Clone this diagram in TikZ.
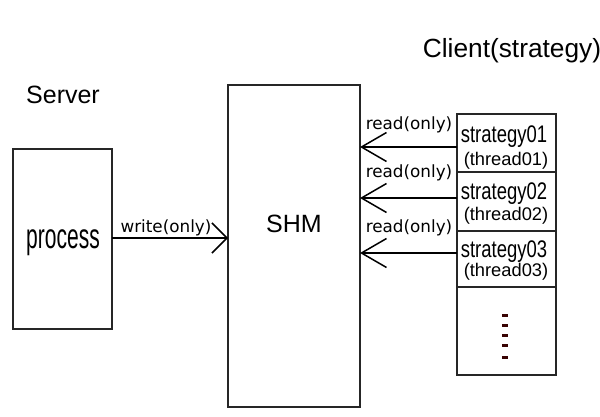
\documentclass[tikz,border=0pt]{standalone}
\usepackage{fontspec}
\setmainfont{Liberation Sans}
\newfontfamily\narrowfont[FakeStretch=0.77]{Liberation Sans}
\newfontfamily\procfont[FakeStretch=0.6]{Liberation Sans}
\newfontfamily\dvfont{DejaVu Sans}
\usetikzlibrary{arrows.meta}
\definecolor{dotc}{rgb}{0.22,0.01,0.01}
\tikzset{
  box/.style={draw=black!85, line width=1.6pt, inner sep=0pt, outer sep=0pt},
  lbl/.style={inner sep=0pt, outer sep=0pt, anchor=base},
  big/.style={lbl, font=\fontsize{25}{30}\selectfont},
  arrlbl/.style={lbl, font=\dvfont\fontsize{16.8}{20}\selectfont},
  strat/.style={lbl, font=\narrowfont\fontsize{24}{28}\selectfont},
  thr/.style={lbl, font=\fontsize{18.3}{22}\selectfont},
  readarrow/.style={line width=1.5pt, -{Straight Barb[length=25pt, width=29pt, line width=1.5pt]}},
  writearrow/.style={line width=1.5pt, -{Straight Barb[length=15pt, width=30pt, line width=1.5pt]}}
}
\begin{document}
\begin{tikzpicture}[x=1pt,y=-1pt]
\useasboundingbox[fill=white] (0,0) rectangle (600,417);
% boxes
\node[box, minimum width=99pt, minimum height=180pt] (proc) at (62.5,239) {};
\node[box, minimum width=132pt, minimum height=322pt] (shm) at (294,246) {};
\node[box, minimum width=99pt, minimum height=58pt] (s1) at (506.5,143) {};
\node[box, minimum width=99pt, minimum height=59pt] (s2) at (506.5,201.5) {};
\node[box, minimum width=99pt, minimum height=56pt] (s3) at (506.5,259) {};
\node[box, minimum width=99pt, minimum height=88pt] (s4) at (506.5,331) {};
% titles
\node[big] (server) at (63,104) {Server};
\node[lbl, font=\fontsize{26.3}{30}\selectfont] (client) at (512,58) {Client(strategy)};
\node[lbl, font=\procfont\fontsize{35}{40}\selectfont] (proct) at (63,248) {process};
\node[big] (shmt) at (294,233) {SHM};
% client texts
\node[strat] (st1) at (504,143) {strategy01};
\node[thr] (th1) at (506,165) {(thread01)};
\node[strat] (st2) at (504,200) {strategy02};
\node[thr] (th2) at (506,220) {(thread02)};
\node[strat] (st3) at (504,257) {strategy03};
\node[thr] (th3) at (506,276) {(thread03)};
% arrows
\draw[writearrow] (proc.east |- 0,238) -- (shm.west |- 0,238);
\node[arrlbl] (wl) at (166,233) {write(only)};
\draw[readarrow] (s1.west |- 0,147) -- (shm.east |- 0,147);
\draw[readarrow] (s2.west |- 0,198) -- (shm.east |- 0,198);
\draw[readarrow] (s3.west |- 0,253) -- (shm.east |- 0,253);
\node[arrlbl] (r1) at (409,130) {read(only)};
\node[arrlbl] (r2) at (409,178) {read(only)};
\node[arrlbl] (r3) at (409,233) {read(only)};
% dots
\foreach \yy in {315,325,335,345,357}
  \fill[dotc] (502,\yy-1.5) rectangle (508,\yy+1.5);
\end{tikzpicture}
\end{document}
